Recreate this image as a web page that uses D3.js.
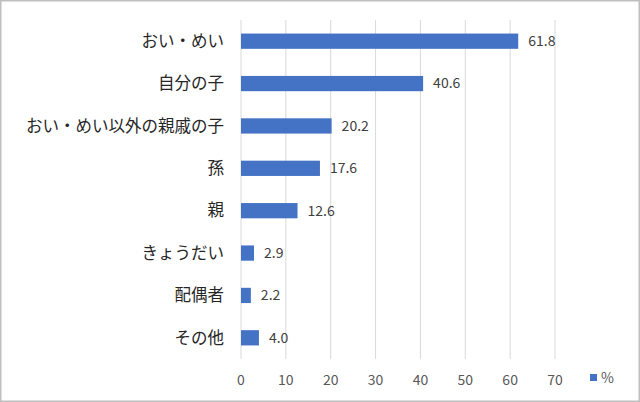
<!DOCTYPE html>
<html><head><meta charset="utf-8">
<script src="https://cdn.jsdelivr.net/npm/d3@7"></script>
<style>body{margin:0;background:#fff}</style>
</head><body><div id="chart"></div>
<script>
const categories = ["おい・めい","自分の子","おい・めい以外の親戚の子","孫","親","きょうだい","配偶者","その他"]
const values = [61.8, 40.6, 20.2, 17.6, 12.6, 2.9, 2.2, 4.0]
const ticks = [0,10,20,30,40,50,60,70]
const seriesName = "%"

const width = 640, height = 402
const font = "'Noto Sans CJK JP', 'Noto Sans', sans-serif"

const svg = d3.select("#chart").append("svg")
  .attr("width", width).attr("height", height)
  .style("font-family", font)

svg.append("rect")
  .attr("x", 0.5).attr("y", 0.5)
  .attr("width", width - 1).attr("height", height - 1)
  .attr("fill", "#fff").attr("stroke", "#bfbfbf").attr("stroke-width", 2)

const x = d3.scaleLinear().domain([0, 70]).range([241, 555])
const y = d3.scaleBand().domain(categories).range([20, 359]).paddingInner(0.64).paddingOuter(0.32)

// grid
svg.selectAll(".grid").data(ticks).enter().append("line")
  .attr("x1", d => x(d)).attr("x2", d => x(d))
  .attr("y1", 20).attr("y2", 359)
  .attr("stroke", "#d9d9d9").attr("stroke-width", 1)

svg.selectAll(".bar").data(values).enter().append("rect")
  .attr("x", x(0))
  .attr("y", (d, i) => y(categories[i]))
  .attr("width", d => x(d) - x(0))
  .attr("height", y.bandwidth())
  .attr("fill", "#4472c4")

svg.selectAll(".val").data(values).enter().append("text")
  .attr("x", d => x(d) + 10)
  .attr("y", (d, i) => y(categories[i]) + y.bandwidth() / 2)
  .attr("dy", "0.35em")
  .attr("font-size", 14).attr("fill", "#404040")
  .text(d => d.toFixed(1))

svg.selectAll(".cat").data(categories).enter().append("text")
  .attr("x", 224)
  .attr("y", d => y(d) + y.bandwidth() / 2)
  .attr("dy", "0.35em")
  .attr("text-anchor", "end")
  .attr("font-size", 16.5).attr("fill", "#262626")
  .text(d => d)

svg.selectAll(".tick").data(ticks).enter().append("text")
  .attr("x", d => x(d)).attr("y", 380)
  .attr("dy", "0.35em")
  .attr("text-anchor", "middle")
  .attr("font-size", 14).attr("fill", "#595959")
  .text(d => d)

svg.append("rect").attr("x", 590).attr("y", 374).attr("width", 7).attr("height", 7).attr("fill", "#4472c4")
svg.append("text").attr("x", 601).attr("y", 378).attr("dy", "0.35em")
  .attr("font-size", 14).attr("fill", "#595959").text(seriesName)
</script></body></html>
